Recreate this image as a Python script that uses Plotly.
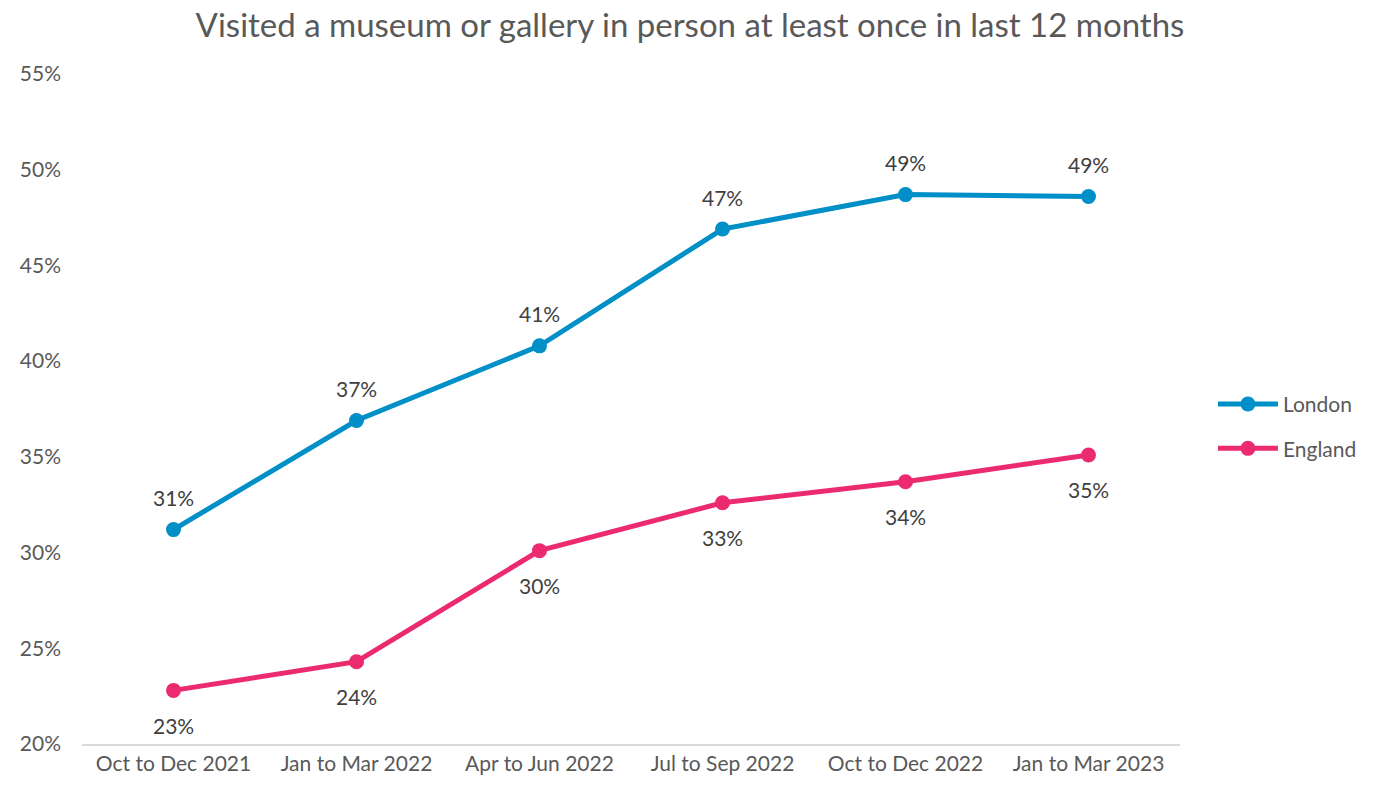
import plotly.graph_objects as go

# Survey periods and share of adults who visited a museum or gallery
periods = ["Oct to Dec 2021", "Jan to Mar 2022", "Apr to Jun 2022",
           "Jul to Sep 2022", "Oct to Dec 2022", "Jan to Mar 2023"]
london = [0.312, 0.369, 0.408, 0.469, 0.487, 0.486]
england = [0.228, 0.243, 0.301, 0.326, 0.337, 0.351]

y_ticks = [0.20, 0.25, 0.30, 0.35, 0.40, 0.45, 0.50, 0.55]

LONDON_COLOR = "#008FC7"
ENGLAND_COLOR = "#EC2A70"
FONT = "Lato, Open Sans, sans-serif"

fig = go.Figure()
fig.add_trace(go.Scatter(
    x=periods, y=london, name="London", mode="lines+markers",
    legendgroup="london",
    line=dict(color=LONDON_COLOR, width=5),
    marker=dict(color=LONDON_COLOR, size=15),
))
fig.add_trace(go.Scatter(
    x=periods, y=england, name="England", mode="lines+markers",
    legendgroup="england",
    line=dict(color=ENGLAND_COLOR, width=5),
    marker=dict(color=ENGLAND_COLOR, size=15),
))

# Data labels: London above its points, England below
annotations = []
for series, shift in ((london, 32), (england, -35)):
    for p, v in zip(periods, series):
        annotations.append(dict(
            x=p, y=v, xref="x", yref="y", text=f"{v * 100:.0f}%",
            showarrow=False, yshift=shift,
            font=dict(family=FONT, size=21, color="#404040"),
        ))

fig.update_layout(
    width=1380, height=787,
    margin=dict(l=82, r=200, t=74, b=43),
    paper_bgcolor="white", plot_bgcolor="white",
    font=dict(family=FONT, size=21, color="#595959"),
    title=dict(
        text="Visited a museum or gallery in person at least once in last 12 months",
        x=0.5, xanchor="center", y=0.968, yanchor="middle",
        font=dict(family=FONT, size=33, color="#595959"),
    ),
    xaxis=dict(
        type="category", range=[-0.5, 5.5], showgrid=False,
        showline=True, linecolor="#D9D9D9", linewidth=1.5,
        ticks="", tickfont=dict(size=21, color="#595959"),
    ),
    yaxis=dict(
        range=[0.20, 0.55], tickvals=y_ticks, tickformat=".0%",
        showgrid=False, zeroline=False, showline=False, ticks="",
        tickfont=dict(size=21, color="#595959"), ticklabelstandoff=20,
    ),
    legend=dict(
        x=1.03, xanchor="left", xref="paper", y=0.474, yanchor="middle",
        font=dict(size=21, color="#595959"), tracegroupgap=14,
        itemwidth=60,
    ),
    annotations=annotations,
    showlegend=True,
)

fig.write_html("out.html")
